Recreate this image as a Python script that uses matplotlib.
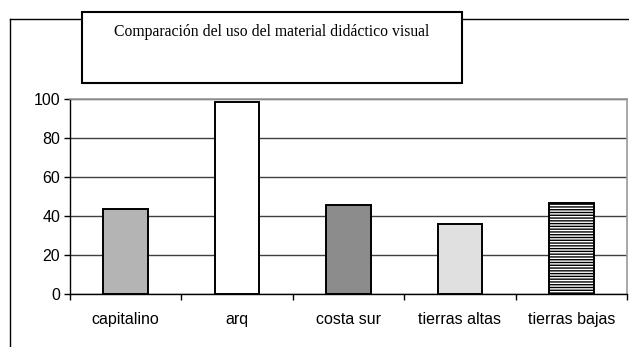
import numpy as np
import matplotlib.pyplot as plt
from matplotlib.patches import Rectangle
from matplotlib.lines import Line2D

# Datos del gráfico
regiones = ["capitalino", "arq", "costa sur", "tierras altas", "tierras bajas"]
uso = [43.4, 98.3, 45.6, 35.9, 46.5]
titulo = "Comparación del uso del material didáctico visual"

# Rellenos de cada barra (color, trama)
rellenos = ["#b4b4b4", "white", "#8c8c8c", "#e0e0e0", "white"]
tramas = ["", "", "", "", "------"]

W, H = 629, 347
fig = plt.figure(figsize=(W / 100, H / 100), dpi=100)
plt.rcParams['font.family'] = ['Liberation Sans', 'DejaVu Sans']
plt.rcParams['hatch.color'] = '#707070'
plt.rcParams['hatch.linewidth'] = 1.0

ax = fig.add_axes([70 / W, 1 - 294 / H, (627 - 70) / W, (294 - 99) / H])
x = np.arange(len(regiones))
ax.bar(x, uso, width=0.4, color=rellenos, hatch=tramas, edgecolor="black",
       linewidth=1.4, zorder=3)

ax.set_xlim(-0.5, len(regiones) - 0.5)
ax.set_ylim(0, 100)
ax.set_yticks(np.arange(0, 101, 20))
ax.yaxis.grid(True, color="#404040", linewidth=1.0, zorder=0)
ax.tick_params(axis="y", direction="out", length=4, width=1, labelsize=11.5, pad=3)

# etiquetas centradas, marcas entre categorías
ax.set_xticks(x)
ax.set_xticklabels(regiones, fontsize=11.5)
ax.tick_params(axis="x", which="major", length=0, pad=13)
ax.set_xticks(np.arange(-0.5, len(regiones), 1), minor=True)
ax.tick_params(axis="x", which="minor", direction="out", length=4, width=1)

for lado in ["top", "right"]:
    ax.spines[lado].set_color("#999999")
    ax.spines[lado].set_linewidth(1.2)
for lado in ["left", "bottom"]:
    ax.spines[lado].set_color("black")
    ax.spines[lado].set_linewidth(1.0)

# marco exterior
fig.add_artist(Line2D([10 / W, 10 / W], [0, 1 - 19 / H], color="black",
                      linewidth=1.0, transform=fig.transFigure))
fig.add_artist(Line2D([10 / W, 1], [1 - 19 / H, 1 - 19 / H], color="black",
                      linewidth=1.0, transform=fig.transFigure))

# recuadro del título
fig.add_artist(Rectangle((82 / W, 1 - 83 / H), (462 - 82) / W, (83 - 12) / H,
                         facecolor="white", edgecolor="black", linewidth=1.5,
                         transform=fig.transFigure, zorder=5))
fig.text(272 / W, 1 - 32 / H, titulo, ha="center", va="center", fontsize=11.3,
         family=["Liberation Serif", "DejaVu Serif"], zorder=6)

fig.savefig("out.png", dpi=100)
